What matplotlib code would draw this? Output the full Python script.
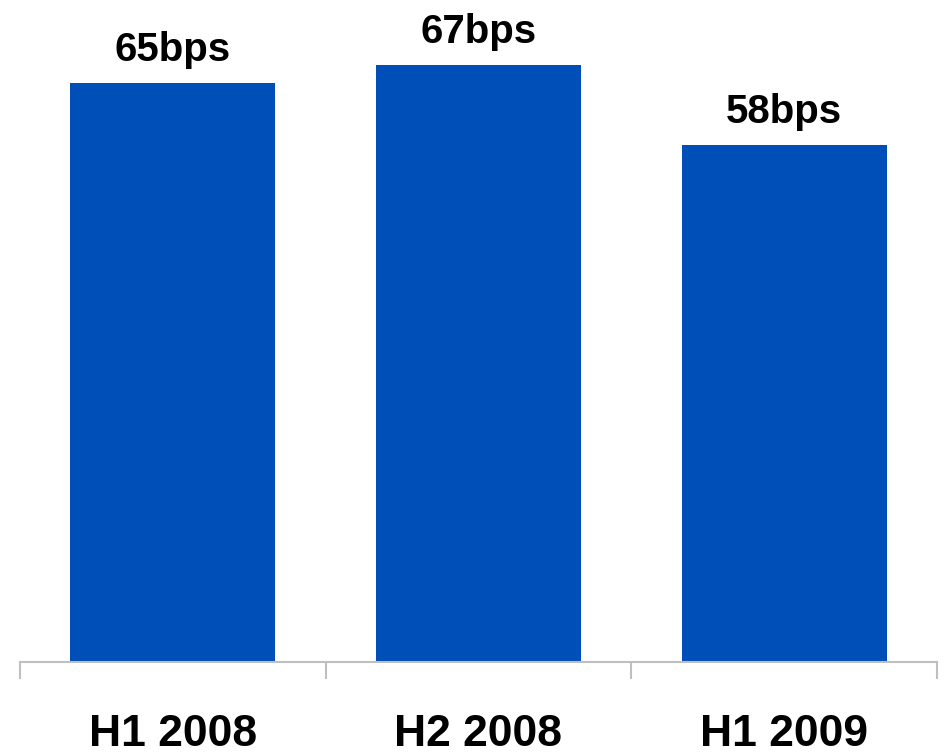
import matplotlib
matplotlib.use('Agg')
import matplotlib.pyplot as plt
import matplotlib.transforms as mtransforms
import numpy as np

periods = ["H1 2008", "H2 2008", "H1 2009"]
spread_bps = [65, 67, 58]
bar_labels = ["65bps", "67bps", "58bps"]

W, H = 949, 754
fig = plt.figure(figsize=(W / 100, H / 100), dpi=100)
# axes spans x 20..937 px, y 0..662 px (from top)
ax = fig.add_axes([20 / W, 1 - 662 / H, 917 / W, 662 / H])

x = np.arange(len(periods))
bars = ax.bar(x, spread_bps, width=0.67, color='#004EB8', zorder=2)

ax.set_xlim(-0.5, len(periods) - 0.5)
ax.set_ylim(0, 74.3)

for s in ['top', 'right', 'left']:
    ax.spines[s].set_visible(False)
ax.spines['bottom'].set_color('#BFBFBF')
ax.spines['bottom'].set_linewidth(1.5)
ax.set_yticks([])

# tick marks sit on the category boundaries
ax.set_xticks(np.arange(-0.5, len(periods)), labels=[])
ax.tick_params(axis='x', length=12, width=1.5, color='#BFBFBF', direction='out')

for b, lab in zip(bars, bar_labels):
    ax.annotate(lab, (b.get_x() + b.get_width() / 2, b.get_height()),
                xytext=(0, 16), textcoords='offset points',
                ha='center', va='baseline', fontsize=29, fontweight='bold',
                family='Liberation Sans')

# category names near the bottom edge of the figure
trans = mtransforms.blended_transform_factory(ax.transData, fig.transFigure)
for xi, p in zip(x, periods):
    ax.text(xi, 1 - 746 / H, p, transform=trans,
            ha='center', va='baseline', fontsize=32, fontweight='bold',
            family='Liberation Sans')

fig.savefig("out.png", dpi=100)
